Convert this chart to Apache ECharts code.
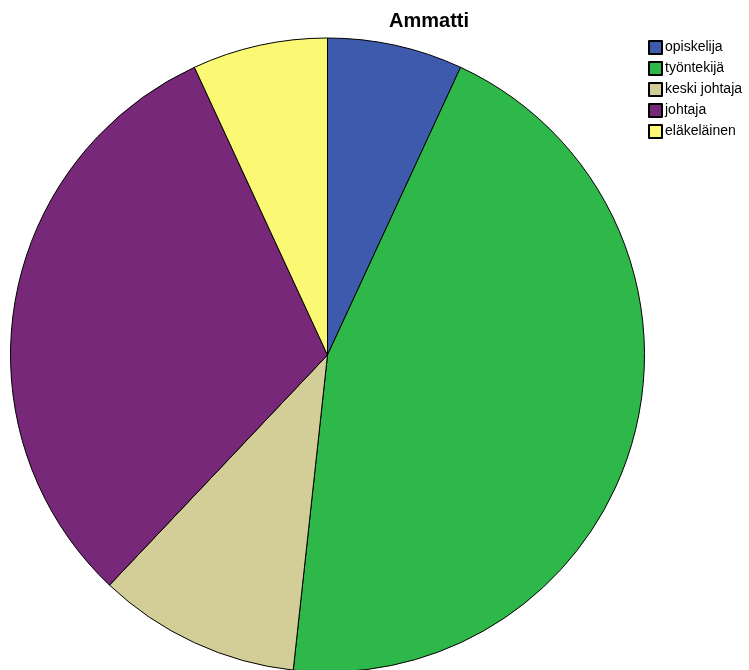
<!DOCTYPE html>
<html>
<head>
<meta charset="utf-8">
<script src="https://cdn.jsdelivr.net/npm/echarts@6/dist/echarts.min.js"></script>
<style>
html,body{margin:0;padding:0;background:#fff;}
#c{width:749px;height:670px;}
</style>
</head>
<body>
<div id="c"></div>
<script>
const title = 'Ammatti';
const categories = ['opiskelija', 'työntekijä', 'keski johtaja', 'johtaja', 'eläkeläinen'];
const counts = [2, 13, 3, 9, 2];
const colors = ['#3e5aad', '#2eb84a', '#d3ce98', '#782878', '#fbf874'];

const chart = echarts.init(document.getElementById('c'), null, {renderer: 'canvas'});
chart.setOption({
  animation: false,
  backgroundColor: '#ffffff',
  title: {
    text: title,
    left: 429, top: 10,
    padding: 0,
    textAlign: 'center',
    textStyle: {fontFamily: 'Liberation Sans, Arial', fontSize: 20, fontWeight: 'bold', color: '#000', lineHeight: 22}
  },
  legend: {
    orient: 'vertical',
    left: 648, top: 40,
    padding: 0,
    itemWidth: 13, itemHeight: 13, itemGap: 6,
    icon: 'rect',
    selectedMode: false,
    textStyle: {fontFamily: 'Liberation Sans, Arial', fontSize: 14, lineHeight: 13, color: '#000', padding: [0, 0, 0, -2]},
    data: categories
  },
  series: [{
    type: 'pie',
    center: [327.5, 355],
    radius: 317,
    startAngle: 90,
    clockwise: true,
    label: {show: false},
    labelLine: {show: false},
    silent: true,
    itemStyle: {borderColor: '#000', borderWidth: 1},
    data: categories.map((n, i) => ({name: n, value: counts[i], itemStyle: {color: colors[i]}}))
  }]
});
</script>
</body>
</html>
